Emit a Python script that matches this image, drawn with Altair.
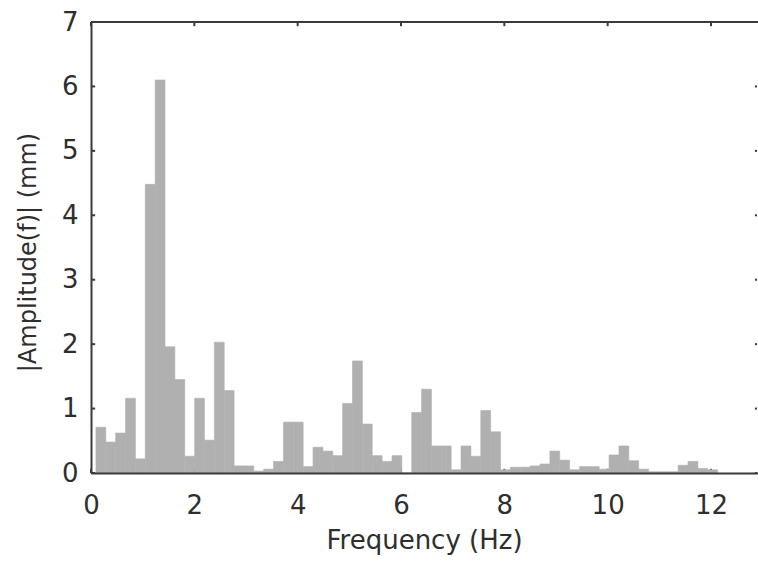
import altair as alt
import pandas as pd

# Frequency bins (Hz) and amplitudes (mm)
freq = [0.191, 0.382, 0.573, 0.764, 0.955, 1.146, 1.337, 1.528, 1.719, 1.910,
        2.101, 2.292, 2.483, 2.674, 2.865, 3.056, 3.247, 3.438, 3.629, 3.820,
        4.011, 4.202, 4.393, 4.584, 4.775, 4.966, 5.157, 5.348, 5.539, 5.730,
        5.921, 6.112, 6.303, 6.494, 6.685, 6.876, 7.067, 7.258, 7.449, 7.640,
        7.831, 8.022, 8.213, 8.404, 8.595, 8.786, 8.977, 9.168, 9.359, 9.550,
        9.741, 9.932, 10.123, 10.314, 10.505, 10.696, 10.887, 11.078, 11.269, 11.460,
        11.651, 11.842, 12.033]
amp = [0.71, 0.48, 0.62, 1.16, 0.22, 4.48, 6.10, 1.96, 1.45, 0.26,
       1.16, 0.51, 2.03, 1.28, 0.11, 0.11, 0.03, 0.06, 0.18, 0.79,
       0.79, 0.10, 0.40, 0.34, 0.27, 1.08, 1.74, 0.76, 0.27, 0.18,
       0.27, 0.00, 0.94, 1.30, 0.42, 0.42, 0.05, 0.42, 0.26, 0.97,
       0.64, 0.05, 0.09, 0.09, 0.11, 0.14, 0.34, 0.20, 0.05, 0.10,
       0.10, 0.06, 0.28, 0.42, 0.19, 0.06, 0.02, 0.02, 0.02, 0.12,
       0.18, 0.07, 0.05]
bin_width = 0.191

x_ticks = [0, 2, 4, 6, 8, 10, 12]
y_ticks = [0, 1, 2, 3, 4, 5, 6, 7]
x_max = 12.91
y_max = 7

FONT = "DejaVu Sans"
INK = "#2e2e2e"
LINE = "#3a3a3a"
BAR = "#b0b0b0"

bars_df = pd.DataFrame({"f": freq, "amp": amp})
xt_df = pd.DataFrame({"t": x_ticks})
yt_df = pd.DataFrame({"t": y_ticks})
one_df = pd.DataFrame({"k": [0]})

xscale = alt.Scale(domain=[0, x_max], nice=False, zero=False)
yscale = alt.Scale(domain=[0, y_max], nice=False, zero=False)

x_axis = alt.Axis(
    values=x_ticks, tickSize=0, grid=False, labelFlush=False,
    labelFont=FONT, labelFontSize=26, labelColor=INK,
    labelBaseline="alphabetic", labelPadding=40,
    domainColor=LINE, domainWidth=2,
    title="Frequency (Hz)", titleFont=FONT, titleFontSize=26,
    titleFontWeight="normal", titleColor=INK,
    titleX=333, titleY=75, titleAlign="center", titleBaseline="alphabetic",
    zindex=1)
y_axis = alt.Axis(
    values=y_ticks, tickSize=0, grid=False, labelFlush=False,
    labelFont=FONT, labelFontSize=26, labelColor=INK, labelPadding=13,
    domainColor=LINE, domainWidth=2,
    title="|Amplitude(f)| (mm)", titleFont=FONT, titleFontSize=24,
    titleFontWeight="normal", titleColor=INK,
    titleX=-56, titleY=230, titleAngle=270, titleAlign="center",
    titleBaseline="alphabetic", zindex=1)

tick_bottom = alt.Chart(xt_df).mark_rule(color=LINE, strokeWidth=2).encode(
    x=alt.X("t:Q", scale=xscale, axis=x_axis),
    y=alt.YDatum(0, scale=yscale, axis=y_axis), y2=alt.Y2Datum(0.065))
tick_top = alt.Chart(xt_df).mark_rule(color=LINE, strokeWidth=2).encode(
    x=alt.X("t:Q", scale=xscale, axis=x_axis),
    y=alt.YDatum(y_max, axis=y_axis), y2=alt.Y2Datum(y_max - 0.065))
tick_left = alt.Chart(yt_df).mark_rule(color=LINE, strokeWidth=2).encode(
    y=alt.Y("t:Q", scale=yscale, axis=y_axis),
    x=alt.XDatum(0, axis=x_axis), x2=alt.X2Datum(0.08))
tick_right = alt.Chart(yt_df).mark_rule(color=LINE, strokeWidth=2).encode(
    y=alt.Y("t:Q", scale=yscale, axis=y_axis),
    x=alt.XDatum(x_max - 0.06, axis=x_axis), x2=alt.X2Datum(x_max - 0.02))

bars = alt.Chart(bars_df).transform_calculate(
    x0=f"datum.f - {bin_width / 2}",
    x1=f"datum.f + {bin_width / 2}",
).mark_rect(color=BAR, stroke=BAR, strokeWidth=0.6).encode(
    x=alt.X("x0:Q", scale=xscale, axis=x_axis),
    x2="x1:Q",
    y=alt.Y("amp:Q", scale=yscale, axis=y_axis),
    y2=alt.Y2Datum(0),
)

top_line = alt.Chart(one_df).mark_rule(color=LINE, strokeWidth=2).encode(
    x=alt.XDatum(0, axis=x_axis), x2=alt.X2Datum(x_max),
    y=alt.YDatum(y_max, axis=y_axis))

chart = alt.layer(
    tick_bottom, tick_top, tick_left, tick_right, bars, top_line
).properties(
    width=667, height=451,
    autosize=alt.AutoSizeParams(type="none"),
    padding={"left": 91, "top": 22, "right": 0, "bottom": 91},
    background="white",
).configure_view(stroke=None)

chart.save("out.html", embed_options={"renderer": "svg", "actions": False})
